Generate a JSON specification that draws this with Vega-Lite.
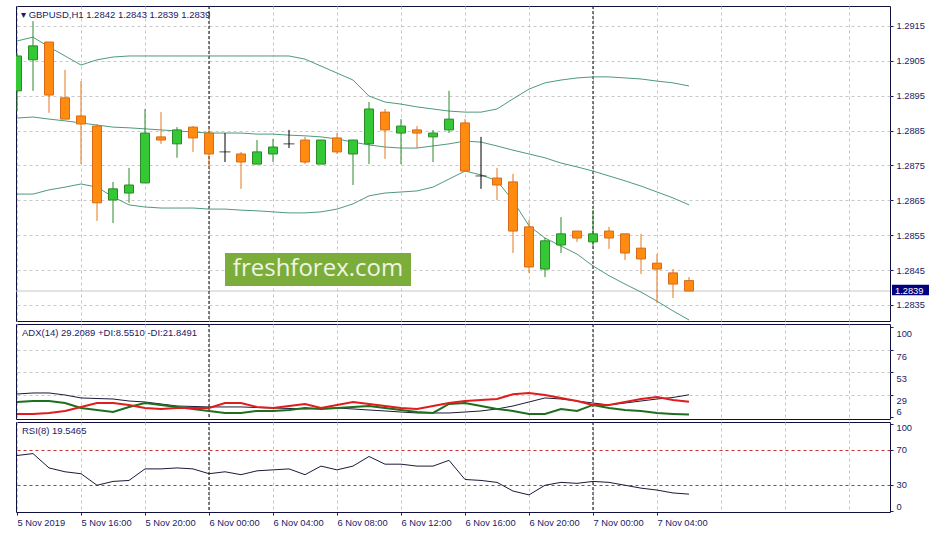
{
  "$schema": "https://vega.github.io/schema/vega-lite/v6.json",
  "padding": {"left": 12, "top": 5, "right": 0, "bottom": 0},
  "background": "#ffffff",
  "spacing": 3,
  "bounds": "flush",
  "config": {
    "view": {"stroke": "#101040", "strokeWidth": 1},
    "font": "Liberation Sans",
    "axis": {"labelFont": "Liberation Sans", "labelColor": "#1a1a66", "tickColor": "#1a1a66", "gridColor": "#c8c8c8", "gridDash": [3, 3], "domain": false, "labelFontSize": 9.3, "labelOverlap": false}
  },
  "datasets": {
    "bars": [
      {"t": "2019-11-05T12:00:00Z", "open": 1.28964, "high": 1.29073, "low": 1.28906, "close": 1.29064, "upper": 1.29107, "middle": 1.28886, "lower": 1.28668, "adx": 30.0, "plusDI": 21.7, "minusDI": 9.2, "rsi": 63.7},
      {"t": "2019-11-05T13:00:00Z", "open": 1.29053, "high": 1.29164, "low": 1.28964, "close": 1.29093, "upper": 1.29118, "middle": 1.28889, "lower": 1.28668, "adx": 31.1, "plusDI": 22.7, "minusDI": 9.2, "rsi": 65.9},
      {"t": "2019-11-05T14:00:00Z", "open": 1.29104, "high": 1.29104, "low": 1.28901, "close": 1.28952, "upper": 1.29090, "middle": 1.28883, "lower": 1.28680, "adx": 31.1, "plusDI": 22.7, "minusDI": 10.2, "rsi": 49.5},
      {"t": "2019-11-05T15:00:00Z", "open": 1.28944, "high": 1.29024, "low": 1.28883, "close": 1.28883, "upper": 1.29064, "middle": 1.28878, "lower": 1.28688, "adx": 29.0, "plusDI": 20.6, "minusDI": 12.3, "rsi": 45.1},
      {"t": "2019-11-05T16:00:00Z", "open": 1.28892, "high": 1.28992, "low": 1.28754, "close": 1.28869, "upper": 1.29038, "middle": 1.28872, "lower": 1.28697, "adx": 25.9, "plusDI": 15.4, "minusDI": 16.5, "rsi": 42.9},
      {"t": "2019-11-05T17:00:00Z", "open": 1.28863, "high": 1.28869, "low": 1.28591, "close": 1.28643, "upper": 1.29053, "middle": 1.28866, "lower": 1.28688, "adx": 25.3, "plusDI": 13.3, "minusDI": 20.6, "rsi": 29.7},
      {"t": "2019-11-05T18:00:00Z", "open": 1.28651, "high": 1.28703, "low": 1.28585, "close": 1.28683, "upper": 1.29061, "middle": 1.28860, "lower": 1.28660, "adx": 24.8, "plusDI": 11.2, "minusDI": 20.6, "rsi": 34.1},
      {"t": "2019-11-05T19:00:00Z", "open": 1.28671, "high": 1.28743, "low": 1.28643, "close": 1.28694, "upper": 1.29064, "middle": 1.28858, "lower": 1.28637, "adx": 22.7, "plusDI": 16.5, "minusDI": 18.6, "rsi": 35.2},
      {"t": "2019-11-05T20:00:00Z", "open": 1.28700, "high": 1.28912, "low": 1.28700, "close": 1.28843, "upper": 1.29064, "middle": 1.28855, "lower": 1.28631, "adx": 21.7, "plusDI": 20.6, "minusDI": 15.4, "rsi": 48.4},
      {"t": "2019-11-05T21:00:00Z", "open": 1.28832, "high": 1.28903, "low": 1.28812, "close": 1.28823, "upper": 1.29064, "middle": 1.28852, "lower": 1.28628, "adx": 19.6, "plusDI": 18.6, "minusDI": 14.4, "rsi": 48.4},
      {"t": "2019-11-05T22:00:00Z", "open": 1.28812, "high": 1.28860, "low": 1.28772, "close": 1.28852, "upper": 1.29064, "middle": 1.28849, "lower": 1.28628, "adx": 17.5, "plusDI": 16.5, "minusDI": 15.4, "rsi": 49.5},
      {"t": "2019-11-05T23:00:00Z", "open": 1.28860, "high": 1.28863, "low": 1.28789, "close": 1.28829, "upper": 1.29064, "middle": 1.28846, "lower": 1.28628, "adx": 17.0, "plusDI": 14.4, "minusDI": 15.4, "rsi": 48.4},
      {"t": "2019-11-06T00:00:00Z", "open": 1.28843, "high": 1.28860, "low": 1.28743, "close": 1.28783, "upper": 1.29064, "middle": 1.28843, "lower": 1.28625, "adx": 16.5, "plusDI": 12.3, "minusDI": 15.4, "rsi": 42.9},
      {"t": "2019-11-06T01:00:00Z", "open": 1.28789, "high": 1.28843, "low": 1.28760, "close": 1.28789, "upper": 1.29064, "middle": 1.28843, "lower": 1.28625, "adx": 16.5, "plusDI": 10.2, "minusDI": 20.6, "rsi": 45.1},
      {"t": "2019-11-06T02:00:00Z", "open": 1.28783, "high": 1.28789, "low": 1.28683, "close": 1.28760, "upper": 1.29064, "middle": 1.28843, "lower": 1.28622, "adx": 16.5, "plusDI": 10.2, "minusDI": 20.6, "rsi": 41.8},
      {"t": "2019-11-06T03:00:00Z", "open": 1.28754, "high": 1.28823, "low": 1.28754, "close": 1.28789, "upper": 1.29064, "middle": 1.28840, "lower": 1.28620, "adx": 15.9, "plusDI": 12.3, "minusDI": 16.5, "rsi": 46.2},
      {"t": "2019-11-06T04:00:00Z", "open": 1.28783, "high": 1.28826, "low": 1.28760, "close": 1.28803, "upper": 1.29064, "middle": 1.28840, "lower": 1.28617, "adx": 15.4, "plusDI": 12.3, "minusDI": 15.4, "rsi": 47.3},
      {"t": "2019-11-06T05:00:00Z", "open": 1.28812, "high": 1.28852, "low": 1.28800, "close": 1.28812, "upper": 1.29064, "middle": 1.28837, "lower": 1.28614, "adx": 14.9, "plusDI": 13.3, "minusDI": 17.5, "rsi": 48.4},
      {"t": "2019-11-06T06:00:00Z", "open": 1.28823, "high": 1.28832, "low": 1.28754, "close": 1.28760, "upper": 1.29055, "middle": 1.28835, "lower": 1.28614, "adx": 14.4, "plusDI": 15.4, "minusDI": 19.6, "rsi": 41.8},
      {"t": "2019-11-06T07:00:00Z", "open": 1.28754, "high": 1.28823, "low": 1.28754, "close": 1.28823, "upper": 1.29035, "middle": 1.28832, "lower": 1.28617, "adx": 14.9, "plusDI": 14.4, "minusDI": 15.4, "rsi": 51.6},
      {"t": "2019-11-06T08:00:00Z", "open": 1.28829, "high": 1.28843, "low": 1.28783, "close": 1.28789, "upper": 1.29015, "middle": 1.28826, "lower": 1.28625, "adx": 15.4, "plusDI": 15.4, "minusDI": 18.6, "rsi": 47.3},
      {"t": "2019-11-06T09:00:00Z", "open": 1.28783, "high": 1.28823, "low": 1.28694, "close": 1.28823, "upper": 1.28995, "middle": 1.28817, "lower": 1.28640, "adx": 14.4, "plusDI": 16.5, "minusDI": 21.7, "rsi": 51.6},
      {"t": "2019-11-06T10:00:00Z", "open": 1.28812, "high": 1.28932, "low": 1.28754, "close": 1.28912, "upper": 1.28949, "middle": 1.28809, "lower": 1.28663, "adx": 13.3, "plusDI": 17.5, "minusDI": 19.6, "rsi": 62.6},
      {"t": "2019-11-06T11:00:00Z", "open": 1.28903, "high": 1.28912, "low": 1.28769, "close": 1.28852, "upper": 1.28932, "middle": 1.28803, "lower": 1.28671, "adx": 12.3, "plusDI": 15.4, "minusDI": 17.5, "rsi": 53.8},
      {"t": "2019-11-06T12:00:00Z", "open": 1.28843, "high": 1.28883, "low": 1.28754, "close": 1.28863, "upper": 1.28926, "middle": 1.28800, "lower": 1.28674, "adx": 11.2, "plusDI": 13.3, "minusDI": 15.4, "rsi": 53.8},
      {"t": "2019-11-06T13:00:00Z", "open": 1.28852, "high": 1.28863, "low": 1.28800, "close": 1.28843, "upper": 1.28918, "middle": 1.28800, "lower": 1.28677, "adx": 10.2, "plusDI": 11.2, "minusDI": 14.4, "rsi": 51.6},
      {"t": "2019-11-06T14:00:00Z", "open": 1.28832, "high": 1.28852, "low": 1.28760, "close": 1.28843, "upper": 1.28912, "middle": 1.28806, "lower": 1.28688, "adx": 10.2, "plusDI": 10.2, "minusDI": 17.5, "rsi": 51.6},
      {"t": "2019-11-06T15:00:00Z", "open": 1.28852, "high": 1.28964, "low": 1.28843, "close": 1.28883, "upper": 1.28906, "middle": 1.28812, "lower": 1.28711, "adx": 10.2, "plusDI": 19.6, "minusDI": 20.6, "rsi": 58.2},
      {"t": "2019-11-06T16:00:00Z", "open": 1.28872, "high": 1.28883, "low": 1.28734, "close": 1.28734, "upper": 1.28903, "middle": 1.28820, "lower": 1.28734, "adx": 11.2, "plusDI": 20.6, "minusDI": 22.7, "rsi": 36.3},
      {"t": "2019-11-06T17:00:00Z", "open": 1.28720, "high": 1.28832, "low": 1.28683, "close": 1.28720, "upper": 1.28903, "middle": 1.28817, "lower": 1.28723, "adx": 12.3, "plusDI": 17.5, "minusDI": 23.8, "rsi": 35.2},
      {"t": "2019-11-06T18:00:00Z", "open": 1.28714, "high": 1.28743, "low": 1.28651, "close": 1.28694, "upper": 1.28912, "middle": 1.28806, "lower": 1.28706, "adx": 14.4, "plusDI": 14.4, "minusDI": 24.8, "rsi": 33.0},
      {"t": "2019-11-06T19:00:00Z", "open": 1.28703, "high": 1.28726, "low": 1.28499, "close": 1.28562, "upper": 1.28941, "middle": 1.28794, "lower": 1.28649, "adx": 17.5, "plusDI": 12.3, "minusDI": 29.8, "rsi": 23.1},
      {"t": "2019-11-06T20:00:00Z", "open": 1.28574, "high": 1.28594, "low": 1.28442, "close": 1.28459, "upper": 1.28969, "middle": 1.28783, "lower": 1.28577, "adx": 21.7, "plusDI": 9.2, "minusDI": 31.1, "rsi": 18.7},
      {"t": "2019-11-06T21:00:00Z", "open": 1.28453, "high": 1.28542, "low": 1.28430, "close": 1.28534, "upper": 1.28987, "middle": 1.28772, "lower": 1.28542, "adx": 25.9, "plusDI": 9.2, "minusDI": 29.0, "rsi": 29.7},
      {"t": "2019-11-06T22:00:00Z", "open": 1.28522, "high": 1.28602, "low": 1.28499, "close": 1.28554, "upper": 1.28995, "middle": 1.28757, "lower": 1.28519, "adx": 24.8, "plusDI": 14.4, "minusDI": 25.9, "rsi": 33.0},
      {"t": "2019-11-06T23:00:00Z", "open": 1.28562, "high": 1.28562, "low": 1.28531, "close": 1.28542, "upper": 1.29001, "middle": 1.28746, "lower": 1.28496, "adx": 22.7, "plusDI": 12.3, "minusDI": 22.7, "rsi": 31.9},
      {"t": "2019-11-07T00:00:00Z", "open": 1.28531, "high": 1.28622, "low": 1.28519, "close": 1.28554, "upper": 1.29004, "middle": 1.28734, "lower": 1.28462, "adx": 20.6, "plusDI": 18.6, "minusDI": 18.6, "rsi": 34.1},
      {"t": "2019-11-07T01:00:00Z", "open": 1.28562, "high": 1.28574, "low": 1.28511, "close": 1.28542, "upper": 1.29004, "middle": 1.28720, "lower": 1.28434, "adx": 18.6, "plusDI": 15.4, "minusDI": 18.6, "rsi": 33.0},
      {"t": "2019-11-07T02:00:00Z", "open": 1.28554, "high": 1.28554, "low": 1.28479, "close": 1.28499, "upper": 1.29001, "middle": 1.28706, "lower": 1.28410, "adx": 20.6, "plusDI": 13.3, "minusDI": 21.7, "rsi": 29.7},
      {"t": "2019-11-07T03:00:00Z", "open": 1.28513, "high": 1.28554, "low": 1.28439, "close": 1.28482, "upper": 1.28998, "middle": 1.28691, "lower": 1.28387, "adx": 22.7, "plusDI": 12.3, "minusDI": 24.8, "rsi": 26.4},
      {"t": "2019-11-07T04:00:00Z", "open": 1.28470, "high": 1.28496, "low": 1.28356, "close": 1.28453, "upper": 1.28992, "middle": 1.28674, "lower": 1.28361, "adx": 24.8, "plusDI": 10.2, "minusDI": 26.9, "rsi": 24.2},
      {"t": "2019-11-07T05:00:00Z", "open": 1.28442, "high": 1.28453, "low": 1.28370, "close": 1.28410, "upper": 1.28987, "middle": 1.28657, "lower": 1.28333, "adx": 26.4, "plusDI": 9.2, "minusDI": 23.8, "rsi": 20.9},
      {"t": "2019-11-07T06:00:00Z", "open": 1.2842, "high": 1.2843, "low": 1.2839, "close": 1.2839, "upper": 1.28978, "middle": 1.28637, "lower": 1.28307, "adx": 29.2089, "plusDI": 8.551, "minusDI": 21.8491, "rsi": 19.5465}
    ],
    "days": [{"t": "2019-11-06T00:00:00Z"}, {"t": "2019-11-07T00:00:00Z"}],
    "last": [{"price": 1.2839, "label": "1.2839"}]
  },
  "vconcat": [
    {
      "width": 874,
      "height": 315,
      "data": {"name": "bars"},
      "layer": [
        {
          "data": {"name": "last"},
          "mark": {"type": "rule", "color": "#c8c8c8", "strokeWidth": 1},
          "encoding": {
            "y": {"field": "price", "type": "quantitative", "scale": {"domain": [1.283041, 1.292073], "zero": false, "nice": false},
              "axis": {"orient": "right", "title": null, "values": [1.2835, 1.2845, 1.2855, 1.2865, 1.2875, 1.2885, 1.2895, 1.2905, 1.2915], "format": ".4f", "tickSize": 3, "labelPadding": 3, "grid": true, "labelFlush": false, "labelOverlap": false}}
          }
        },
        {
          "data": {"name": "days"},
          "mark": {"type": "rule", "color": "#000000", "strokeDash": [3, 2], "strokeWidth": 1},
          "encoding": {
            "x": {"field": "t", "type": "temporal", "scale": {"type": "utc", "domain": [1572954975000, 1573151625000], "padding": 0},
              "axis": {"orient": "bottom", "title": null, "values": [1572955200000, 1572962400000, 1572969600000, 1572976800000, 1572984000000, 1572991200000, 1572998400000, 1573005600000, 1573012800000, 1573020000000, 1573027200000, 1573034400000, 1573041600000, 1573048800000, 1573056000000, 1573063200000, 1573070400000, 1573077600000, 1573084800000, 1573092000000, 1573099200000, 1573106400000, 1573113600000, 1573120800000, 1573128000000, 1573135200000, 1573142400000, 1573149600000], "labels": false, "ticks": false, "grid": true, "domain": false}}
          }
        },
        {
          "mark": {"type": "line", "color": "#4f9a7a", "strokeWidth": 1, "clip": true},
          "encoding": {
            "x": {"field": "t", "type": "temporal"},
            "y": {"field": "upper", "type": "quantitative", "scale": {"domain": [1.283041, 1.292073], "zero": false, "nice": false},
              "axis": {"orient": "right", "title": null, "values": [1.2835, 1.2845, 1.2855, 1.2865, 1.2875, 1.2885, 1.2895, 1.2905, 1.2915], "format": ".4f", "tickSize": 3, "labelPadding": 3, "grid": true, "labelFlush": false, "labelOverlap": false}}
          }
        },
        {
          "mark": {"type": "line", "color": "#4f9a7a", "strokeWidth": 1, "clip": true},
          "encoding": {
            "x": {"field": "t", "type": "temporal"},
            "y": {"field": "middle", "type": "quantitative", "scale": {"domain": [1.283041, 1.292073], "zero": false, "nice": false},
              "axis": {"orient": "right", "title": null, "values": [1.2835, 1.2845, 1.2855, 1.2865, 1.2875, 1.2885, 1.2895, 1.2905, 1.2915], "format": ".4f", "tickSize": 3, "labelPadding": 3, "grid": true, "labelFlush": false, "labelOverlap": false}}
          }
        },
        {
          "mark": {"type": "line", "color": "#4f9a7a", "strokeWidth": 1, "clip": true},
          "encoding": {
            "x": {"field": "t", "type": "temporal"},
            "y": {"field": "lower", "type": "quantitative", "scale": {"domain": [1.283041, 1.292073], "zero": false, "nice": false},
              "axis": {"orient": "right", "title": null, "values": [1.2835, 1.2845, 1.2855, 1.2865, 1.2875, 1.2885, 1.2895, 1.2905, 1.2915], "format": ".4f", "tickSize": 3, "labelPadding": 3, "grid": true, "labelFlush": false, "labelOverlap": false}}
          }
        },
        {
          "mark": {"type": "rule", "strokeWidth": 1, "clip": true},
          "encoding": {
            "x": {"field": "t", "type": "temporal"},
            "y": {"field": "low", "type": "quantitative", "scale": {"domain": [1.283041, 1.292073], "zero": false, "nice": false},
              "axis": {"orient": "right", "title": null, "values": [1.2835, 1.2845, 1.2855, 1.2865, 1.2875, 1.2885, 1.2895, 1.2905, 1.2915], "format": ".4f", "tickSize": 3, "labelPadding": 3, "grid": true, "labelFlush": false, "labelOverlap": false}},
            "y2": {"field": "high"},
            "color": {"condition": [{"test": "datum.close > datum.open", "value": "#2a8a2a"}, {"test": "datum.close == datum.open", "value": "#000000"}], "value": "#e0781e"}
          }
        },
        {
          "transform": [{"filter": "datum.open != datum.close"}],
          "mark": {"type": "bar", "size": 9, "strokeWidth": 1, "clip": true},
          "encoding": {
            "x": {"field": "t", "type": "temporal"},
            "y": {"field": "open", "type": "quantitative", "scale": {"domain": [1.283041, 1.292073], "zero": false, "nice": false},
              "axis": {"orient": "right", "title": null, "values": [1.2835, 1.2845, 1.2855, 1.2865, 1.2875, 1.2885, 1.2895, 1.2905, 1.2915], "format": ".4f", "tickSize": 3, "labelPadding": 3, "grid": true, "labelFlush": false, "labelOverlap": false}},
            "y2": {"field": "close"},
            "fill": {"condition": {"test": "datum.close > datum.open", "value": "#34c934"}, "value": "#ff8c10"},
            "stroke": {"condition": {"test": "datum.close > datum.open", "value": "#2a8a2a"}, "value": "#d86a18"}
          }
        },
        {
          "transform": [{"filter": "datum.open == datum.close"}],
          "mark": {"type": "tick", "orient": "horizontal", "size": 11, "thickness": 1, "color": "#000000", "clip": true},
          "encoding": {
            "x": {"field": "t", "type": "temporal"},
            "y": {"field": "open", "type": "quantitative", "scale": {"domain": [1.283041, 1.292073], "zero": false, "nice": false},
              "axis": {"orient": "right", "title": null, "values": [1.2835, 1.2845, 1.2855, 1.2865, 1.2875, 1.2885, 1.2895, 1.2905, 1.2915], "format": ".4f", "tickSize": 3, "labelPadding": 3, "grid": true, "labelFlush": false, "labelOverlap": false}}
          }
        },
        {
          "data": {"values": [{}]},
          "mark": {"type": "rect", "color": "#7cac3a"},
          "encoding": {
            "x": {"datum": 1573002000000, "type": "temporal"},
            "x2": {"datum": 1573043850000},
            "y": {"datum": 1.284991, "type": "quantitative", "scale": {"domain": [1.283041, 1.292073], "zero": false, "nice": false},
              "axis": {"orient": "right", "title": null, "values": [1.2835, 1.2845, 1.2855, 1.2865, 1.2875, 1.2885, 1.2895, 1.2905, 1.2915], "format": ".4f", "tickSize": 3, "labelPadding": 3, "grid": true, "labelFlush": false, "labelOverlap": false}},
            "y2": {"datum": 1.284045}
          }
        },
        {
          "data": {"values": [{}]},
          "mark": {"type": "text", "text": "freshforex.com", "font": "Open Sans", "fontSize": 24, "color": "#eef5e2", "align": "center", "baseline": "middle"},
          "encoding": {
            "x": {"datum": 1573022925000, "type": "temporal"},
            "y": {"datum": 1.284518, "type": "quantitative", "scale": {"domain": [1.283041, 1.292073], "zero": false, "nice": false},
              "axis": {"orient": "right", "title": null, "values": [1.2835, 1.2845, 1.2855, 1.2865, 1.2875, 1.2885, 1.2895, 1.2905, 1.2915], "format": ".4f", "tickSize": 3, "labelPadding": 3, "grid": true, "labelFlush": false, "labelOverlap": false}}
          }
        },
        {
          "data": {"values": [{}]},
          "mark": {"type": "text", "text": "▾ GBPUSD,H1  1.2842 1.2843 1.2839 1.2839", "font": "Liberation Sans", "fontSize": 9.5, "color": "#1a1a66", "align": "left", "baseline": "middle", "dx": 5, "dy": 9},
          "encoding": {
            "x": {"datum": 1572954975000, "type": "temporal"},
            "y": {"datum": 1.292073, "type": "quantitative", "scale": {"domain": [1.283041, 1.292073], "zero": false, "nice": false},
              "axis": {"orient": "right", "title": null, "values": [1.2835, 1.2845, 1.2855, 1.2865, 1.2875, 1.2885, 1.2895, 1.2905, 1.2915], "format": ".4f", "tickSize": 3, "labelPadding": 3, "grid": true, "labelFlush": false, "labelOverlap": false}}
          }
        },
        {
          "data": {"name": "last"},
          "mark": {"type": "rect", "color": "#000080"},
          "encoding": {
            "x": {"datum": 1573152075000, "type": "temporal"},
            "x2": {"datum": 1573160400000},
            "y": {"datum": 1.28408, "type": "quantitative", "scale": {"domain": [1.283041, 1.292073], "zero": false, "nice": false},
              "axis": {"orient": "right", "title": null, "values": [1.2835, 1.2845, 1.2855, 1.2865, 1.2875, 1.2885, 1.2895, 1.2905, 1.2915], "format": ".4f", "tickSize": 3, "labelPadding": 3, "grid": true, "labelFlush": false, "labelOverlap": false}},
            "y2": {"datum": 1.28378}
          }
        },
        {
          "data": {"name": "last"},
          "mark": {"type": "text", "align": "left", "baseline": "middle", "dx": 3, "fontSize": 9.3, "color": "#ffffff", "font": "Liberation Sans"},
          "encoding": {
            "x": {"datum": 1573152075000, "type": "temporal"},
            "y": {"field": "price", "type": "quantitative", "scale": {"domain": [1.283041, 1.292073], "zero": false, "nice": false},
              "axis": {"orient": "right", "title": null, "values": [1.2835, 1.2845, 1.2855, 1.2865, 1.2875, 1.2885, 1.2895, 1.2905, 1.2915], "format": ".4f", "tickSize": 3, "labelPadding": 3, "grid": true, "labelFlush": false, "labelOverlap": false}},
            "text": {"field": "label"}
          }
        }
      ]
    },
    {
      "width": 874,
      "height": 95,
      "data": {"name": "bars"},
      "layer": [
        {
          "data": {"name": "days"},
          "mark": {"type": "rule", "color": "#000000", "strokeDash": [3, 2], "strokeWidth": 1},
          "encoding": {
            "x": {"field": "t", "type": "temporal", "scale": {"type": "utc", "domain": [1572954975000, 1573151625000], "padding": 0},
              "axis": {"orient": "bottom", "title": null, "values": [1572955200000, 1572962400000, 1572969600000, 1572976800000, 1572984000000, 1572991200000, 1572998400000, 1573005600000, 1573012800000, 1573020000000, 1573027200000, 1573034400000, 1573041600000, 1573048800000, 1573056000000, 1573063200000, 1573070400000, 1573077600000, 1573084800000, 1573092000000, 1573099200000, 1573106400000, 1573113600000, 1573120800000, 1573128000000, 1573135200000, 1573142400000, 1573149600000], "labels": false, "ticks": false, "grid": true, "domain": false}}
          }
        },
        {
          "mark": {"type": "line", "color": "#1a1a3a", "strokeWidth": 1},
          "encoding": {
            "x": {"field": "t", "type": "temporal"},
            "y": {"field": "adx", "type": "quantitative", "scale": {"domain": [3.9, 103.2], "zero": false, "nice": false},
              "axis": {"orient": "right", "title": null, "values": [6, 29, 53, 76, 100], "tickSize": 3, "labelPadding": 3, "grid": true, "labelOverlap": false, "labelFlush": false,
                "labelBaseline": {"condition": {"test": "datum.value == 6", "value": "bottom"}, "value": "top"},
                "labelOffset": {"condition": {"test": "datum.value == 6", "value": 0}, "value": 2},
                "gridOpacity": {"condition": {"test": "datum.value == 6 || datum.value == 100", "value": 0}, "value": 1}}}
          }
        },
        {
          "mark": {"type": "line", "color": "#1f6e1f", "strokeWidth": 2},
          "encoding": {
            "x": {"field": "t", "type": "temporal"},
            "y": {"field": "plusDI", "type": "quantitative", "scale": {"domain": [3.9, 103.2], "zero": false, "nice": false},
              "axis": {"orient": "right", "title": null, "values": [6, 29, 53, 76, 100], "tickSize": 3, "labelPadding": 3, "grid": true, "labelOverlap": false, "labelFlush": false,
                "labelBaseline": {"condition": {"test": "datum.value == 6", "value": "bottom"}, "value": "top"},
                "labelOffset": {"condition": {"test": "datum.value == 6", "value": 0}, "value": 2},
                "gridOpacity": {"condition": {"test": "datum.value == 6 || datum.value == 100", "value": 0}, "value": 1}}}
          }
        },
        {
          "mark": {"type": "line", "color": "#e01c1c", "strokeWidth": 2},
          "encoding": {
            "x": {"field": "t", "type": "temporal"},
            "y": {"field": "minusDI", "type": "quantitative", "scale": {"domain": [3.9, 103.2], "zero": false, "nice": false},
              "axis": {"orient": "right", "title": null, "values": [6, 29, 53, 76, 100], "tickSize": 3, "labelPadding": 3, "grid": true, "labelOverlap": false, "labelFlush": false,
                "labelBaseline": {"condition": {"test": "datum.value == 6", "value": "bottom"}, "value": "top"},
                "labelOffset": {"condition": {"test": "datum.value == 6", "value": 0}, "value": 2},
                "gridOpacity": {"condition": {"test": "datum.value == 6 || datum.value == 100", "value": 0}, "value": 1}}}
          }
        },
        {
          "data": {"values": [{}]},
          "mark": {"type": "text", "text": "ADX(14) 29.2089 +DI:8.5510 -DI:21.8491", "font": "Liberation Sans", "fontSize": 9.5, "color": "#1a1a66", "align": "left", "baseline": "middle", "dx": 6, "dy": 9},
          "encoding": {
            "x": {"datum": 1572954975000, "type": "temporal"},
            "y": {"datum": 103.2, "type": "quantitative", "scale": {"domain": [3.9, 103.2], "zero": false, "nice": false},
              "axis": {"orient": "right", "title": null, "values": [6, 29, 53, 76, 100], "tickSize": 3, "labelPadding": 3, "grid": true, "labelOverlap": false, "labelFlush": false,
                "labelBaseline": {"condition": {"test": "datum.value == 6", "value": "bottom"}, "value": "top"},
                "labelOffset": {"condition": {"test": "datum.value == 6", "value": 0}, "value": 2},
                "gridOpacity": {"condition": {"test": "datum.value == 6 || datum.value == 100", "value": 0}, "value": 1}}}
          }
        }
      ]
    },
    {
      "width": 874,
      "height": 90,
      "data": {"name": "bars"},
      "layer": [
        {
          "data": {"name": "days"},
          "mark": {"type": "rule", "color": "#000000", "strokeDash": [3, 2], "strokeWidth": 1},
          "encoding": {
            "x": {"field": "t", "type": "temporal", "scale": {"type": "utc", "domain": [1572954975000, 1573151625000], "padding": 0},
              "axis": {"orient": "bottom", "title": null, "values": [1572955200000, 1572962400000, 1572969600000, 1572976800000, 1572984000000, 1572991200000, 1572998400000, 1573005600000, 1573012800000, 1573020000000, 1573027200000, 1573034400000, 1573041600000, 1573048800000, 1573056000000, 1573063200000, 1573070400000, 1573077600000, 1573084800000, 1573092000000, 1573099200000, 1573106400000, 1573113600000, 1573120800000, 1573128000000, 1573135200000, 1573142400000, 1573149600000],
                "labelExpr": "(time(datum.value) - 1572955200000) % 14400000 == 0 && time(datum.value) <= 1573099200000 ? (time(datum.value) == 1572955200000 ? '5 Nov 2019' : utcFormat(datum.value, '%-d %b %H:%M')) : ''",
                "tickOpacity": {"condition": {"test": "(time(datum.value) - 1572955200000) % 14400000 == 0 && time(datum.value) <= 1573099200000", "value": 1}, "value": 0},
                "labelAlign": "left", "labelBaseline": "top", "labelPadding": 3, "tickSize": 3, "grid": true, "domain": false, "labelFlush": false, "labelOverlap": false, "labelFontSize": 9.3}}
          }
        },
        {
          "mark": {"type": "line", "color": "#1a1a3a", "strokeWidth": 1},
          "encoding": {
            "x": {"field": "t", "type": "temporal"},
            "y": {"field": "rsi", "type": "quantitative", "scale": {"domain": [-0.86, 102], "zero": false, "nice": false},
              "axis": {"orient": "right", "title": null, "values": [0, 30, 70, 100], "tickSize": 3, "labelPadding": 3, "grid": true, "labelOverlap": false, "labelFlush": 5, "gridColor": "#c83232", "gridDash": [3, 3],
                "gridOpacity": {"condition": {"test": "datum.value == 30 || datum.value == 70", "value": 1}, "value": 0}}}
          }
        },
        {
          "data": {"values": [{}]},
          "mark": {"type": "text", "text": "RSI(8) 19.5465", "font": "Liberation Sans", "fontSize": 9.5, "color": "#1a1a66", "align": "left", "baseline": "middle", "dx": 6, "dy": 9},
          "encoding": {
            "x": {"datum": 1572954975000, "type": "temporal"},
            "y": {"datum": 102, "type": "quantitative", "scale": {"domain": [-0.86, 102], "zero": false, "nice": false},
              "axis": {"orient": "right", "title": null, "values": [0, 30, 70, 100], "tickSize": 3, "labelPadding": 3, "grid": true, "labelOverlap": false, "labelFlush": 5, "gridColor": "#c83232", "gridDash": [3, 3],
                "gridOpacity": {"condition": {"test": "datum.value == 30 || datum.value == 70", "value": 1}, "value": 0}}}
          }
        }
      ]
    }
  ]
}
